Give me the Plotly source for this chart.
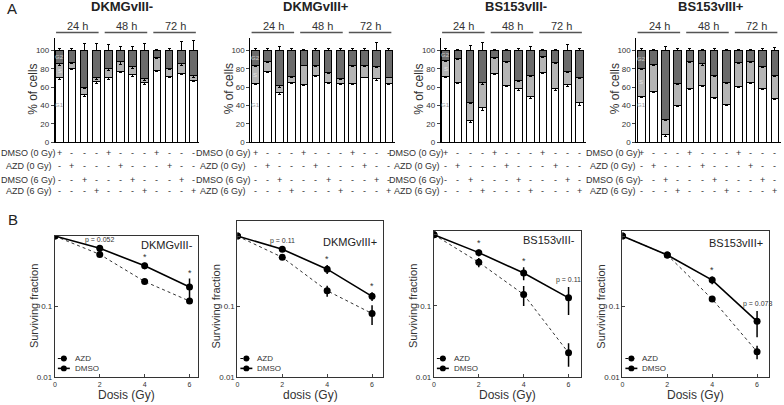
import math
import plotly.graph_objects as go

W, H = 784, 405

# ---- panel A: cell cycle distribution (% of cells), 12 bars per cell line ----
cell_lines = ["DKMGvIII-", "DKMGvIII+", "BS153vIII-", "BS153vIII+"]
time_labels = ["24 h", "48 h", "72 h"]
treatments = ["DMSO (0 Gy)", "AZD (0 Gy)", "DMSO (6 Gy)", "AZD (6 Gy)"]

g1_dkmg_neg = [70, 80.5, 52, 66, 70, 77, 73.5, 65, 78.5, 71.5, 75, 67.5]
s_dkmg_neg = [15.5, 6, 8, 4, 10, 10.5, 9, 4, 13.5, 9, 10.5, 5.5]
g2_dkmg_neg = [14.5, 13.5, 40, 30, 20, 12.5, 17.5, 31, 8, 19.5, 14.5, 27]
g1_err_dkmg_neg = [1.5, 1.5, 2.5, 2, 1.5, 1.5, 2, 2, 1, 1.5, 1.5, 1.5]
s_err_dkmg_neg = [1.5, 1, 1.5, 2, 2, 2.5, 2, 1.5, 1, 1, 2, 3]
g2_err_dkmg_neg = [2, 2, 7, 7, 6, 4.5, 4.5, 7, 0.5, 2, 10, 11]

g1_dkmg_pos = [63.5, 77.5, 54, 65, 62.5, 73, 64.5, 63.5, 63.5, 71, 69, 63.5]
s_dkmg_pos = [20, 10, 7.5, 6.5, 21.5, 11, 11.5, 6, 20.5, 13, 14, 7.5]
g2_dkmg_pos = [16.5, 12.5, 38.5, 28.5, 16, 16, 24, 30.5, 16, 16, 17, 29]
g1_err_dkmg_pos = [1, 1.5, 2, 1, 0.5, 1, 1, 1, 1, 1, 1.5, 1]
s_err_dkmg_pos = [1, 1, 1.5, 1, 0.5, 1, 1, 1, 1, 1, 2, 1]
g2_err_dkmg_pos = [2, 2, 4, 2, 1, 2, 2, 2, 2, 2, 9, 2.5]

g1_bs_neg = [71.5, 65, 23.5, 38, 75, 62, 58, 49.5, 75.5, 59, 62.5, 43]
s_bs_neg = [17.5, 26.5, 19.5, 27, 17, 25.5, 9, 23, 17.5, 28, 15, 27.5]
g2_bs_neg = [11, 8.5, 57, 35, 8, 12.5, 33, 27.5, 7, 13, 22.5, 29.5]
g1_err_bs_neg = [1, 1, 2, 3, 1, 1.5, 1.5, 2, 1, 2.5, 1.5, 3]
s_err_bs_neg = [1, 1, 1, 2, 1, 1, 1, 1, 1, 1, 1.5, 1.5]
g2_err_bs_neg = [2.5, 1.5, 5.5, 8.5, 0.7, 1, 2.5, 4, 1, 1, 6, 2.5]

g1_bs_pos = [50, 55.5, 8.5, 40, 59, 61.5, 48.5, 41.5, 60.5, 65, 58, 48]
s_bs_pos = [30.5, 29.5, 16.5, 23.5, 28.5, 24.5, 24.5, 23.5, 26.5, 23, 24.5, 25]
g2_bs_pos = [19.5, 15, 75, 36.5, 12.5, 14, 27, 35, 13, 12, 17.5, 27]
g1_err_bs_pos = [1, 1, 2, 1.5, 2, 1, 1, 1.5, 1, 1, 1, 1]
s_err_bs_pos = [1, 1.5, 1.5, 1, 1, 2, 1, 1, 1, 1, 1, 1.5]
g2_err_bs_pos = [2.5, 0.7, 4, 2, 2.5, 1, 2, 1, 1, 1, 2, 3.5]

bar_g1 = [g1_dkmg_neg, g1_dkmg_pos, g1_bs_neg, g1_bs_pos]
bar_s = [s_dkmg_neg, s_dkmg_pos, s_bs_neg, s_bs_pos]
bar_g2 = [g2_dkmg_neg, g2_dkmg_pos, g2_bs_neg, g2_bs_pos]
err_g1 = [g1_err_dkmg_neg, g1_err_dkmg_pos, g1_err_bs_neg, g1_err_bs_pos]
err_s = [s_err_dkmg_neg, s_err_dkmg_pos, s_err_bs_neg, s_err_bs_pos]
err_g2 = [g2_err_dkmg_neg, g2_err_dkmg_pos, g2_err_bs_neg, g2_err_bs_pos]

# ---- panel B: clonogenic survival ----
dose = [0, 2, 4, 6]
dmso_dkmg_neg = [1, 0.67, 0.38, 0.19]
azd_dkmg_neg = [1, 0.55, 0.227, 0.12]
dmso_err_dkmg_neg = [0, 0.03, 0.04, 0.06]
azd_err_dkmg_neg = [0, 0.03, 0.01, 0.01]

dmso_dkmg_pos = [1, 0.65, 0.34, 0.14]
azd_dkmg_pos = [1, 0.5, 0.168, 0.08]
dmso_err_dkmg_pos = [0, 0.03, 0.05, 0.02]
azd_err_dkmg_pos = [0, 0.04, 0.03, 0.025]

dmso_bs_neg = [1, 0.56, 0.29, 0.13]
azd_bs_neg = [1, 0.41, 0.145, 0.022]
dmso_err_bs_neg = [0, 0.06, 0.06, 0.055]
azd_err_bs_neg = [0, 0.06, 0.045, 0.008]

dmso_bs_pos = [1, 0.54, 0.238, 0.062]
azd_bs_pos = [1, 0.54, 0.128, 0.023]
dmso_err_bs_pos = [0, 0.04, 0.03, 0.025]
azd_err_bs_pos = [0, 0.03, 0.01, 0.005]

surv_dmso = [dmso_dkmg_neg, dmso_dkmg_pos, dmso_bs_neg, dmso_bs_pos]
surv_azd = [azd_dkmg_neg, azd_dkmg_pos, azd_bs_neg, azd_bs_pos]
surv_dmso_err = [dmso_err_dkmg_neg, dmso_err_dkmg_pos, dmso_err_bs_neg, dmso_err_bs_pos]
surv_azd_err = [azd_err_dkmg_neg, azd_err_dkmg_pos, azd_err_bs_neg, azd_err_bs_pos]
xlabels_b = ["Dosis (Gy)", "dosis (Gy)", "Dosis (Gy)", "Dosis (Gy)"]
# significance marks: (dose index, text)
sig_marks = [
    [(1, "p = 0.052"), (2, "*"), (3, "*")],
    [(1, "p = 0.11"), (2, "*"), (3, "*")],
    [(1, "*"), (2, "*"), (3, "p = 0.11")],
    [(2, "*"), (3, "p = 0.073")],
]

FONT = "Liberation Sans, Arial, sans-serif"
G2_COL, S_COL = "#6b6b6b", "#b5b5b5"


def px(x):
    return x / W


def py(y):
    return 1 - y / H


def note(x, y, text, size=9, color="#333", xref="paper", yref="paper", **kw):
    d = dict(x=x, y=y, xref=xref, yref=yref, text=text, showarrow=False, xanchor="center",
             yanchor="middle", font=dict(size=size, color=color))
    d.update(kw)
    return d


fig = go.Figure()
layout = {}
annotations = []
shapes = []

# layout in pixels
a_left = [53, 249, 440, 636]
a_title_x = [120, 315, 515, 711]
a_row_label_x = [27, 222, 416, 613]
row_y = [155, 168, 182, 193]
b_left = [53, 236, 433, 622]
b_right = [197, 382, 580, 769]
b_top = [239, 224, 234, 234]
b_ymax = [0, 0.21, 0.05, 0.07]
b_label_y = [248, 245, 243, 246]

for i, name in enumerate(cell_lines):
    k = i + 1
    xa, ya = ("x", "y") if k == 1 else (f"x{k}", f"y{k}")
    xs = list(range(12))
    fig.add_trace(go.Bar(x=xs, y=bar_g1[i], width=0.63, marker=dict(color="white", line=dict(color="black", width=1)),
                         error_y=dict(type="data", array=err_g1[i], color="black", thickness=1, width=1.5),
                         xaxis=xa, yaxis=ya, showlegend=False))
    fig.add_trace(go.Bar(x=xs, y=bar_s[i], width=0.63, marker=dict(color=S_COL, line=dict(color="black", width=1)),
                         error_y=dict(type="data", array=err_s[i], color="black", thickness=1, width=1.5),
                         xaxis=xa, yaxis=ya, showlegend=False))
    fig.add_trace(go.Bar(x=xs, y=bar_g2[i], width=0.63, marker=dict(color=G2_COL, line=dict(color="black", width=1)),
                         error_y=dict(type="data", symmetric=False, array=err_g2[i], arrayminus=[0] * 12,
                                      color="black", thickness=1, width=1.5),
                         xaxis=xa, yaxis=ya, showlegend=False))
    x0 = a_left[i]
    layout[f"xaxis{k if k > 1 else ''}"] = dict(
        domain=[px(x0), px(x0 + 145)], range=[-0.4, 11.5], anchor=ya, showline=True, linecolor="black",
        linewidth=1, showticklabels=False, ticks="", showgrid=False, zeroline=False)
    layout[f"yaxis{k if k > 1 else ''}"] = dict(
        domain=[py(144), py(38)], range=[0, 114], anchor=xa, showline=True, linecolor="black", linewidth=1,
        tickvals=[0, 20, 40, 60, 80, 100], ticks="outside", ticklen=3, tickfont=dict(size=8, color="#333"),
        showgrid=False, zeroline=False)
    annotations.append(note(px(a_title_x[i]), py(7), f"<b>{name}</b>", size=13, color="#222"))
    # time groups
    for g, tl in enumerate(time_labels):
        annotations.append(note(g * 4 + 1.5, py(26), tl, size=11, xref=xa))
        shapes.append(dict(type="line", xref=xa, yref="paper", x0=g * 4 - 0.3, x1=g * 4 + 3.2,
                           y0=py(33), y1=py(33), line=dict(color="#555", width=1.5)))
    # phase labels inside the first bar
    top_s = bar_g1[i][0] + bar_s[i][0]
    for txt, yv, col in [("G2", (top_s + 100) / 2, "#cfcfcf"), ("S", (bar_g1[i][0] + top_s) / 2, "#e6e6e6"),
                         ("G1", 40, "#999")]:
        annotations.append(note(0, yv, txt, size=6, color=col, xref=xa, yref=ya))
    # treatment table
    for r, tr in enumerate(treatments):
        annotations.append(note(px(a_row_label_x[i]), py(row_y[r]), tr, size=9))
        for c in range(12):
            annotations.append(note(c, py(row_y[r]), "+" if c % 4 == r else "-", size=9, color="#333", xref=xa))

    # ---- panel B ----
    kb = i + 5
    xb, yb = f"x{kb}", f"y{kb}"
    fig.add_trace(go.Scatter(x=dose, y=surv_azd[i], mode="lines+markers",
                             line=dict(color="#333", width=1, dash="dot"),
                             marker=dict(color="black", size=7),
                             error_y=dict(type="data", array=surv_azd_err[i], color="black", thickness=1.5, width=0),
                             xaxis=xb, yaxis=yb, showlegend=False))
    fig.add_trace(go.Scatter(x=dose, y=surv_dmso[i], mode="lines+markers",
                             line=dict(color="black", width=1.6),
                             marker=dict(color="black", size=7),
                             error_y=dict(type="data", array=surv_dmso_err[i], color="black", thickness=1.5, width=0),
                             xaxis=xb, yaxis=yb, showlegend=False))
    xr = 6 * (b_right[i] - b_left[i]) / 135
    layout[f"xaxis{kb}"] = dict(
        domain=[px(b_left[i]), px(b_right[i])], range=[0, xr], anchor=yb, showline=True, mirror=True,
        linecolor="#333", linewidth=1, tickvals=dose, ticks="inside", ticklen=3,
        tickfont=dict(size=7, color="#333"), showgrid=False, zeroline=False)
    layout[f"yaxis{kb}"] = dict(
        domain=[py(382), py(b_top[i])], type="log", range=[-2, b_ymax[i]], anchor=xb, showline=True,
        mirror=True, linecolor="#333", linewidth=1, tickvals=[0.01, 0.1, 1], ticktext=["0.01", "0.1", ""],
        ticks="inside", ticklen=3, tickfont=dict(size=8, color="#333"), showgrid=False, zeroline=False)
    annotations.append(note(px(b_right[i] - 4), py(b_label_y[i]), name, size=11, color="#222", xanchor="right"))
    annotations.append(note(px((b_left[i] + b_right[i]) / 2), py(400), xlabels_b[i], size=12))
    annotations.append(note(px(b_left[i] - 21), py(310), "Surviving fraction", size=11, textangle=-90))
    for j, txt in sig_marks[i]:
        yv = math.log10(surv_dmso[i][j] + surv_dmso_err[i][j])
        annotations.append(note(dose[j], yv, txt, size=9 if txt == "*" else 7, xref=xb, yref=yb,
                                yanchor="bottom", yshift=-1 if txt == "*" else 1))
    # legend
    lx = b_left[i] + 9
    for r, (lab, dash, lw) in enumerate([("AZD", "dot", 1), ("DMSO", "solid", 1.6)]):
        yy = 363 + r * 10
        shapes.append(dict(type="line", xref="paper", yref="paper", x0=px(lx - 6), x1=px(lx + 6), y0=py(yy),
                           y1=py(yy), line=dict(color="black", width=lw, dash=dash)))
        shapes.append(dict(type="circle", xref="paper", yref="paper", x0=px(lx - 3), x1=px(lx + 3),
                           y0=py(yy + 3), y1=py(yy - 3), fillcolor="black", line=dict(color="black", width=0)))
        annotations.append(note(px(lx + 9), py(yy), lab, size=8, xanchor="left"))

# y axis titles of panel A
for i in range(4):
    annotations.append(note(px(a_left[i] - 22), py(90), "% of cells", size=12, textangle=-90))

annotations.append(note(px(3), py(9), "A", size=15, color="#222", xanchor="left"))
annotations.append(note(px(4), py(222), "B", size=15, color="#222", xanchor="left"))

fig.update_layout(
    width=W, height=H, margin=dict(l=0, r=0, t=0, b=0), barmode="stack", bargap=0.37,
    paper_bgcolor="white", plot_bgcolor="white", font=dict(family=FONT, color="#333"),
    annotations=annotations, shapes=shapes, **layout)

# the page should hold the figure edge to edge
fig.write_html("out.html", config={"displayModeBar": False, "responsive": False},
               post_script="document.body.style.margin = '0px'; document.body.style.overflow = 'hidden';")
